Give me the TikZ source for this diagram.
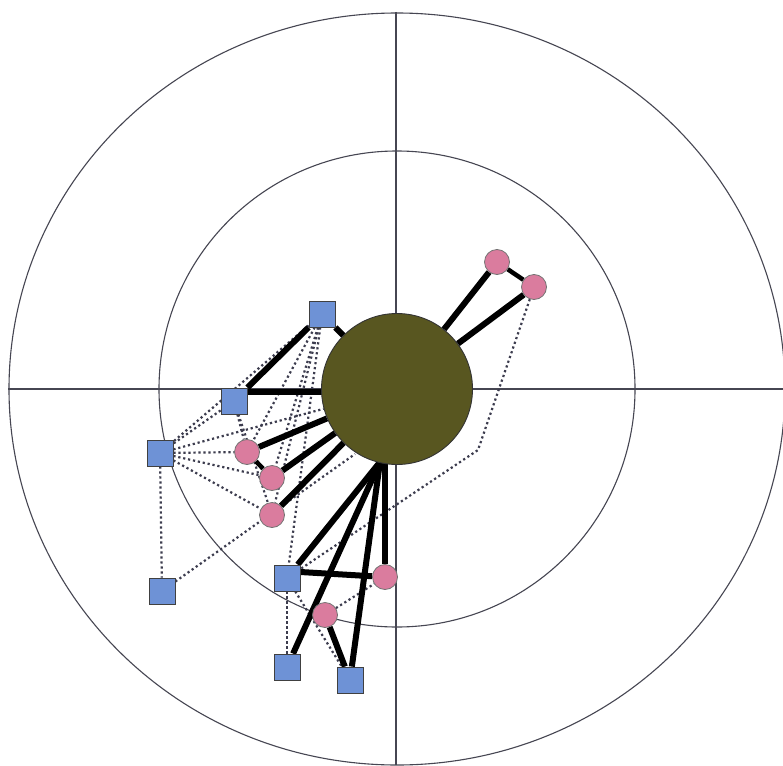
\documentclass[tikz,border=0pt]{standalone}
\usetikzlibrary{calc}
\definecolor{sqfill}{RGB}{110,146,214}
\definecolor{cfill}{RGB}{218,124,158}
\definecolor{egofill}{RGB}{88,86,32}
\definecolor{rimcol}{RGB}{70,70,82}
\definecolor{dotcol}{RGB}{60,60,78}
\pgfdeclarelayer{grid}
\pgfdeclarelayer{edges}
\pgfsetlayers{grid,edges,main}
\begin{document}
\begin{tikzpicture}[x=1pt,y=-1pt,
  sq/.style={draw=black!75, fill=sqfill, minimum size=26pt, inner sep=0pt, line width=0.8pt},
  alter/.style={circle, draw=black!55, fill=cfill, minimum size=25pt, inner sep=0pt, line width=0.8pt},
  ego/.style={circle, draw=black!80, fill=egofill, minimum size=151pt, inner sep=0pt, line width=0.9pt},
  tie/.style={line width=6pt, black},
  weak/.style={dotcol, line width=2.2pt, dash pattern=on 2.2pt off 2.8pt},
  rim/.style={rimcol, line width=1.1pt}]
\useasboundingbox (0,0) rectangle (783,765);
% nodes
\node[ego] (O) at (397,389) {};
\node[sq] (S1) at (322,314) {};
\node[sq] (S2) at (234,401) {};
\node[sq] (S3) at (160,453) {};
\node[sq] (S4) at (162,591) {};
\node[sq] (S5) at (287,578) {};
\node[sq] (S6) at (287,667) {};
\node[sq] (S7) at (350,680) {};
\node[alter] (C1) at (497,262) {};
\node[alter] (C2) at (534,287) {};
\node[alter] (C3) at (247,452) {};
\node[alter] (C4) at (272,478) {};
\node[alter] (C5) at (272,515) {};
\node[alter] (C6) at (385,577) {};
\node[alter] (C7) at (325,615) {};
\coordinate (hub) at (380,462);
\coordinate (hubC6) at (385,462);
\coordinate (p4) at (355,454);
\coordinate (bend) at (478,450);
\coordinate (W) at (8,389);
\coordinate (E) at (783,389);
\coordinate (N) at (396,12);
\coordinate (Sd) at (396,765);
% grid: rings and axes
\begin{pgfonlayer}{grid}
\fill[white] (0,0) rectangle (783,765);
\draw[rim] (O) ellipse [x radius=388, y radius=376];
\draw[rim] (O) circle [radius=238];
\draw[rim] (W) -- (E);
\draw[rim] (N) -- (Sd);
\end{pgfonlayer}
% edges
\begin{pgfonlayer}{edges}
% weak ties
\draw[weak] (S1) -- (S3);
\draw[weak] (S2) -- (S3);
\draw[weak] (S3) -- (O);
\draw[weak] (S3) -- (C3);
\draw[weak] (S3) -- (C4);
\draw[weak] (S3) -- (C5);
\draw[weak] (S3) -- (S4);
\draw[weak] (S1) -- (C3);
\draw[weak] (S1) -- (C4);
\draw[weak] (S1) -- (C5);
\draw[weak] (S1) -- (S5);
\draw[weak] (S2) -- (C3);
\draw[weak] (S2) -- (C5);
\draw[weak] (S4) -- (p4);
\draw[weak] (C2) -- (bend) -- (S5);
\draw[weak] (C7) -- (C6);
\draw[weak] (S5) -- (S6);
\draw[weak] (S5) -- (S7);
% strong ties
\draw[tie] (O) -- (C1);
\draw[tie] (O) -- (C2);
\draw[tie, line width=4.5pt] (C1) -- (C2);
\draw[tie] (O) -- (S1);
\draw[tie] (S2.north east) -- (S1.south west);
\draw[tie] ([yshift=9pt]S2.east) -- ([yshift=9pt]S2.east -| O);
\draw[tie] (O) -- (C3);
\draw[tie] (O) -- (C4);
\draw[tie] (O) -- (C5);
\draw[tie, line width=4.5pt] (C3) -- (C4);
\draw[tie] (hub) -- (S5);
\draw[tie] (hub) -- (S6);
\draw[tie] (hub) -- (S7);
\draw[tie] (hubC6) -- (C6);
\draw[tie] ([yshift=6pt]S5.east) -- (C6);
\draw[tie] (C7) -- (S7);
\end{pgfonlayer}
\end{tikzpicture}
\end{document}
